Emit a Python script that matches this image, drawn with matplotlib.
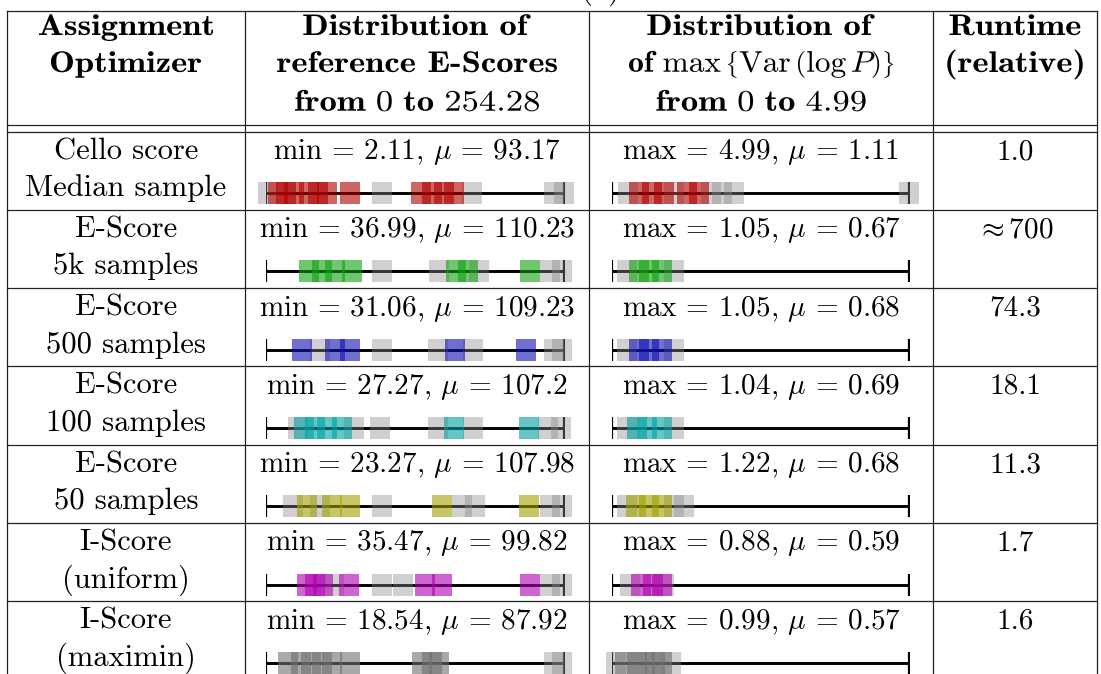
import matplotlib
matplotlib.use('Agg')
import matplotlib.pyplot as plt
import matplotlib.transforms as mtransforms
from matplotlib.textpath import TextPath
from matplotlib.patches import PathPatch
from matplotlib.font_manager import FontProperties

plt.rcParams['mathtext.fontset'] = 'cm'
plt.rcParams['axes.unicode_minus'] = False

# ---- table content ----
optimizers = [("Cello score", "Median sample"), ("E-Score", "5k samples"),
              ("E-Score", "500 samples"), ("E-Score", "100 samples"),
              ("E-Score", "50 samples"), ("I-Score", "(uniform)"),
              ("I-Score", "(maximin)")]
escore_min = [2.11, 36.99, 31.06, 27.27, 23.27, 35.47, 18.54]
escore_mean = [93.17, 110.23, 109.23, 107.2, 107.98, 99.82, 87.92]
var_max = [4.99, 1.05, 1.05, 1.04, 1.22, 0.88, 0.99]
var_mean = [1.11, 0.67, 0.68, 0.69, 0.68, 0.59, 0.57]
runtime = ["1.0", r"$\approx$700", "74.3", "18.1", "11.3", "1.7", "1.6"]
row_colors = ['#b00000', '#10a010', '#1010b0', '#00a0a0', '#a0a000', '#b000b0', '#707070']

escore_range = 254.28
var_range = 4.99

# sample positions in each strip (colored = highlighted, gray = the rest)
escore_colored = [
    [10, 17, 24, 37, 44, 52, 72, 132, 142, 152, 160],
    [37, 48, 59, 73, 162, 172, 225],
    [31, 59, 72, 161, 222],
    [32, 42, 52, 65, 160, 224],
    [35, 56, 72, 150, 224],
    [35, 42, 49, 71, 136, 150, 225],
    [18.5, 30, 38, 48, 56, 72, 133, 142, 148],
]
escore_gray = [
    [2.11, 99, 176, 246, 254],
    [99, 148, 182, 242, 253],
    [46, 99, 147, 177, 246, 253],
    [27.27, 75, 97, 147, 177, 241, 252],
    [23.27, 46, 99, 167, 178, 242, 253],
    [58, 99, 117, 242, 253],
    [246, 253],
]
var_colored = [
    [0.46, 0.67, 0.87, 1.26, 1.47],
    [0.45, 0.62, 0.85],
    [0.45, 0.62, 0.85],
    [0.42, 0.6, 0.85],
    [0.4, 0.62, 0.85],
    [0.5, 0.7, 0.85],
    [0.22, 0.42, 0.56, 0.72, 0.84],
]
var_gray = [
    [0.27, 1.04, 1.66, 1.85, 2.05, 4.99],
    [0.25, 1.05],
    [0.25, 1.05],
    [0.25, 1.04],
    [0.25, 1.05, 1.22],
    [0.3, 0.88],
    [0.07, 0.99],
]

W, H = 1101, 674
fig = plt.figure(figsize=(W / 100, H / 100), dpi=100)
ax = fig.add_axes([0, 0, 1, 1])
ax.set_xlim(0, W)
ax.set_ylim(H, 0)
ax.axis('off')

rm = dict(family='cmr10', fontsize=22)
rm_val = dict(family='cmr10', fontsize=21)

col_x = [7, 245, 589, 933, 1097]
col_c = [(col_x[i] + col_x[i + 1]) / 2 for i in range(4)]
top = 10.5
row0 = 131.5
row_h = 78.3
line_kw = dict(color='#222222', lw=0.9)


def wide_text(x, y, s, size=21.5, stretch=1.16):
    # bold extended look: cmb10 glyphs stretched horizontally
    tp = TextPath((0, 0), s, size=size, prop=FontProperties(family='cmb10'))
    bb = tp.get_extents()
    k = 100 / 72
    tr = (mtransforms.Affine2D().translate(-(bb.x0 + bb.x1) / 2, 0)
          .scale(k * stretch, -k).translate(x, y))
    ax.add_patch(PathPatch(tr.transform_path(tp), fc='black', ec='none', lw=0))


# grid
ax.plot([col_x[0], col_x[-1]], [top, top], **line_kw)
ax.plot([col_x[0], col_x[-1]], [125, 125], **line_kw)
ax.plot([col_x[0], col_x[-1]], [row0, row0], **line_kw)
for x in col_x:
    ax.plot([x, x], [top, H], **line_kw)
for i in range(1, len(optimizers)):
    y = row0 + i * row_h
    ax.plot([col_x[0], col_x[-1]], [y, y], **line_kw)

# caption (cut off at top)
ax.text(601, -2.5, '(a)', ha='center', va='baseline', **rm)

# header
hb = [35, 72, 111]
wide_text(col_c[0], hb[0], 'Assignment')
wide_text(col_c[0], hb[1], 'Optimizer')
wide_text(col_c[1], hb[0], 'Distribution of')
wide_text(col_c[1], hb[1], 'reference E-Scores')
wide_text(col_c[1], hb[2], r'$\mathbf{from}\ 0\ \mathbf{to}\ 254.28$')
wide_text(col_c[2], hb[0], 'Distribution of')
wide_text(col_c[2], hb[1], r'$\mathbf{of}\ \max\,\left\{\mathrm{Var}\,\left(\log P\right)\right\}$',
          stretch=1.05)
wide_text(col_c[2], hb[2], r'$\mathbf{from}\ 0\ \mathbf{to}\ 4.99$')
wide_text(col_c[3], hb[0], 'Runtime')
wide_text(col_c[3], hb[1], '(relative)')

sq = [(-0.43, -0.5), (0.43, -0.5), (0.43, 0.5), (-0.43, 0.5)]


def strip(x0, x1, yc, rng, gray, colored, color):
    sax = fig.add_axes([x0 / W, 1 - (yc + 15) / H, (x1 - x0) / W, 30 / H])
    sax.set_xlim(0, rng)
    sax.set_ylim(-1, 1)
    sax.axis('off')
    sax.plot([0, rng], [0, 0], color='black', lw=2.1, zorder=1)
    sax.plot([0, rng], [0, 0], ls='none', marker='|', ms=16, mew=1.6, color='black', zorder=1)
    sax.plot(gray, [0] * len(gray), ls='none', marker=sq, ms=16.5, mew=0,
             color='#8c888c', alpha=0.4, zorder=2, clip_on=False)
    sax.plot(colored, [0] * len(colored), ls='none', marker=sq, ms=16.5, mew=0,
             color=color, alpha=0.6, zorder=3, clip_on=False)


for i, (l1, l2) in enumerate(optimizers):
    rt = row0 + i * row_h
    ax.text(col_c[0], rt + 27.5, l1, ha='center', va='baseline', **rm)
    ax.text(col_c[0], rt + 64.5, l2, ha='center', va='baseline', **rm)
    ax.text(col_c[1], rt + 27.5, f'min = {escore_min[i]:g}, $\\mu$ = {escore_mean[i]:g}',
            ha='center', va='baseline', **rm_val)
    ax.text(col_c[2], rt + 27.5, f'max = {var_max[i]:g}, $\\mu$ = {var_mean[i]:g}',
            ha='center', va='baseline', **rm_val)
    ax.text(col_c[3], rt + 27.5, runtime[i], ha='center', va='baseline', **rm_val)
    strip(266, 564, rt + 61.5, escore_range, escore_gray[i], escore_colored[i], row_colors[i])
    strip(611.7, 909, rt + 61.5, var_range, var_gray[i], var_colored[i], row_colors[i])

fig.savefig('out.png', dpi=100)
